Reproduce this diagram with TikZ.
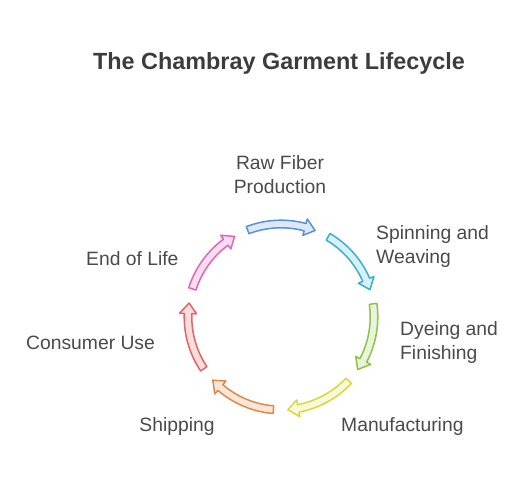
\documentclass[tikz,border=0pt]{standalone}
\usepackage{fontspec}
\setmainfont{Liberation Sans}
\definecolor{txt}{HTML}{4A4A4A}
\definecolor{ttl}{HTML}{3C3C3C}
\definecolor{bluD}{HTML}{5B8FD8}\definecolor{bluL}{HTML}{DDE8F8}
\definecolor{cyaD}{HTML}{3BAFD0}\definecolor{cyaL}{HTML}{D8F0F8}
\definecolor{griD}{HTML}{8CC34A}\definecolor{griL}{HTML}{EAF4DA}
\definecolor{yelD}{HTML}{D8D83A}\definecolor{yelL}{HTML}{F8F8DA}
\definecolor{oraD}{HTML}{E0884A}\definecolor{oraL}{HTML}{FAE6D8}
\definecolor{redD}{HTML}{E06666}\definecolor{redL}{HTML}{FADCDC}
\definecolor{pinD}{HTML}{E066B8}\definecolor{pinL}{HTML}{F8DDF0}
\newcommand{\cyclearrow}[3]{%
  \pgfmathsetmacro{\aA}{#1+21}%
  \pgfmathsetmacro{\aB}{#1-15}%
  \pgfmathsetmacro{\aC}{#1-21.5}%
  \draw[arrowshape, draw=#2, fill=#3]
    (\aA:96.8) arc[start angle=\aA, end angle=\aB, radius=96.8]
    -- (\aB:101.5) -- (\aC:93) -- (\aB:84.5) -- (\aB:89.2)
    arc[start angle=\aB, end angle=\aA, radius=89.2] -- cycle;}
\begin{document}
\begin{tikzpicture}[x=1pt,y=1pt,
  arrowshape/.style={line width=1.5pt, line join=round},
  lbl/.style={inner sep=0pt, text=txt, font=\fontsize{19.3}{24}\selectfont},
  ttlstyle/.style={inner sep=0pt, text=ttl, font=\fontsize{23.4}{28}\selectfont\bfseries}]
\useasboundingbox (0,0) rectangle (530,486);
\node[ttlstyle] (title) at (279,423) {The Chambray Garment Lifecycle};
\begin{scope}[shift={(281,169)}]
  \cyclearrow{90}{bluD}{bluL}
  \cyclearrow{38.57}{cyaD}{cyaL}
  \cyclearrow{-12.86}{griD}{griL}
  \cyclearrow{-64.29}{yelD}{yelL}
  \cyclearrow{-115.71}{oraD}{oraL}
  \cyclearrow{-167.14}{redD}{redL}
  \cyclearrow{141.43}{pinD}{pinL}
\end{scope}
\node[lbl, align=center] (raw) at (280,311) {Raw Fiber\\Production};
\node[lbl, align=left, anchor=west] (spin) at (376,239) {Spinning and\\Weaving};
\node[lbl, align=left, anchor=west] (dye) at (400,143) {Dyeing and\\Finishing};
\node[lbl, anchor=west] (manu) at (341,59) {Manufacturing};
\node[lbl] (ship) at (177,59) {Shipping};
\node[lbl, anchor=west] (cons) at (26,143) {Consumer Use};
\node[lbl, anchor=west] (eol) at (86,227) {End of Life};
\end{tikzpicture}
\end{document}
